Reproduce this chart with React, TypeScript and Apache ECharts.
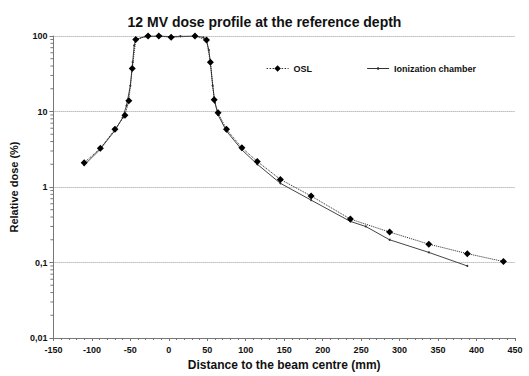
import React, { useEffect, useRef } from "react";
import * as echarts from "echarts";

const TITLE = "12 MV dose profile at the reference depth";
const X_NAME = "Distance to the beam centre (mm)";
const Y_NAME = "Relative dose (%)";

const oslX = [-110, -89, -70, -57, -52, -47.5, -43, -27, -13, 3, 34, 49, 54, 59, 64, 75, 95, 115, 145, 185, 236, 287, 338, 388, 435];
const oslY = [2.1, 3.25, 5.8, 8.9, 13.9, 37, 90, 100, 100, 96, 100, 88.6, 45, 14.3, 9.6, 5.8, 3.3, 2.18, 1.26, 0.76, 0.376, 0.253, 0.175, 0.131, 0.103];

const ionX = [-110, -90, -70, -60, -55, -50, -47, -45, -43, -30, -10, 3, 15, 34, 45, 49, 52, 54, 57, 60, 64, 75, 95, 115, 145, 185, 236, 256, 287, 338, 388];
const ionY = [1.95, 3.1, 5.6, 8.3, 12, 22, 45, 75, 90, 99, 100, 98, 99.5, 100, 96, 88, 65, 45, 22, 13, 9, 5.5, 3.1, 2.0, 1.12, 0.67, 0.35, 0.3, 0.2, 0.136, 0.09];

const minorTickValues = [
  0.02, 0.03, 0.04, 0.05, 0.06, 0.07, 0.08, 0.09,
  0.2, 0.3, 0.4, 0.5, 0.6, 0.7, 0.8, 0.9,
  2, 3, 4, 5, 6, 7, 8, 9,
  20, 30, 40, 50, 60, 70, 80, 90,
];

const FONT = "Liberation Sans, Arial, sans-serif";

export default function App() {
  const ref = useRef<HTMLDivElement>(null);
  useEffect(() => {
    if (!ref.current) return;
    const chart = echarts.init(ref.current, undefined, { renderer: "svg" });
    const option: any = {
      animation: false,
      backgroundColor: "#ffffff",
      textStyle: { fontFamily: FONT },
      title: {
        text: TITLE,
        left: "center",
        top: 10,
        textStyle: { fontFamily: FONT, fontSize: 14, fontWeight: "bold", color: "#111" },
      },
      legend: {
        left: 266,
        top: 64,
        padding: 0,
        itemWidth: 22,
        itemHeight: 8,
        itemGap: 55,
        textStyle: { fontFamily: FONT, fontSize: 9, fontWeight: "bold", color: "#111" },
        data: [
          {
            name: "OSL",
            itemStyle: { color: "#000" },
            lineStyle: { width: 1.2, color: "#333", type: [1.5, 1.5] },
          },
          {
            name: "Ionization chamber",
            icon: "path://M0,4.5H24V5.5H0Z M11,3.6H13V6.4H11Z",
            itemStyle: { color: "#333" },
          },
        ],
      },
      grid: { left: 35, right: 14, top: 36, bottom: 32, containLabel: false },
      xAxis: {
        type: "value",
        min: -150,
        max: 450,
        interval: 50,
        name: X_NAME,
        nameLocation: "middle",
        nameGap: 21,
        nameTextStyle: { fontFamily: FONT, fontSize: 12, fontWeight: "bold", color: "#111" },
        axisLine: { show: true, onZero: false, lineStyle: { color: "#777", width: 1 } },
        axisTick: { show: true, length: 3, inside: false, lineStyle: { color: "#777" } },
        minorTick: { show: true, splitNumber: 5, length: 2, lineStyle: { color: "#777" } },
        axisLabel: {
          fontFamily: FONT,
          fontSize: 9,
          fontWeight: "bold",
          color: "#111",
          margin: 7,
          showMinLabel: true,
          showMaxLabel: true,
        },
        splitLine: { show: false },
      },
      yAxis: {
        type: "log",
        logBase: 10,
        min: 0.01,
        max: 100,
        name: Y_NAME,
        nameLocation: "middle",
        nameGap: 23,
        nameTextStyle: { fontFamily: FONT, fontSize: 11, fontWeight: "bold", color: "#111" },
        axisLine: { show: true, onZero: false, lineStyle: { color: "#777", width: 1 } },
        axisTick: { show: true, length: 4, lineStyle: { color: "#777" } },
        axisLabel: {
          fontFamily: FONT,
          fontSize: 9,
          fontWeight: "bold",
          color: "#111",
          margin: 6,
          formatter: (v: number) => String(v).replace(".", ","),
        },
        splitLine: { show: true, lineStyle: { color: "#999", type: "dotted", width: 1 } },
      },
      series: [
        {
          name: "minorTicks",
          type: "custom",
          silent: true,
          clip: false,
          data: minorTickValues.map((v) => [-150, v]),
          renderItem: (params: any, api: any) => {
            const p = api.coord([api.value(0), api.value(1)]);
            return {
              type: "line",
              shape: { x1: p[0] - 3, y1: p[1], x2: p[0], y2: p[1] },
              style: { stroke: "#777", lineWidth: 1 },
            };
          },
          z: 1,
        },
        {
          name: "Ionization chamber",
          type: "line",
          data: ionX.map((x, i) => [x, ionY[i]]),
          symbol: "circle",
          symbolSize: 2,
          showSymbol: true,
          itemStyle: { color: "#333" },
          lineStyle: { color: "#444", width: 1, type: "solid" },
          z: 2,
        },
        {
          name: "OSL",
          type: "line",
          data: oslX.map((x, i) => [x, oslY[i]]),
          symbol: "diamond",
          symbolSize: 7,
          itemStyle: { color: "#000" },
          lineStyle: { color: "#222", width: 1, type: "dotted" },
          z: 3,
        },
      ],
    };
    chart.setOption(option);
    return () => chart.dispose();
  }, []);
  return (
    <div
      ref={ref}
      style={{ position: "fixed", left: 0, top: 0, width: 529, height: 376, background: "#fff" }}
    />
  );
}
